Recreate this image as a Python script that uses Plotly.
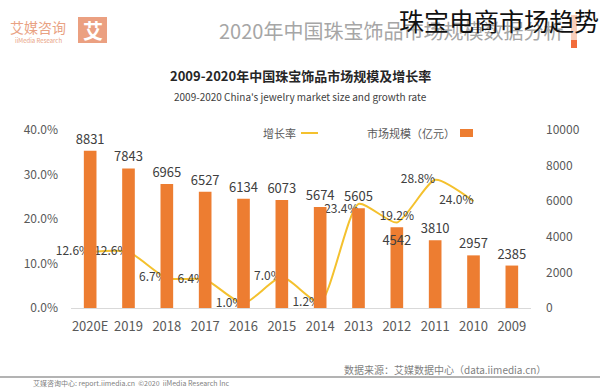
import plotly.graph_objects as go

# ---- data ----
years = ["2009", "2010", "2011", "2012", "2013", "2014", "2015", "2016", "2017", "2018", "2019", "2020E"]
market_size = [2385, 2957, 3810, 4542, 5605, 5674, 6073, 6134, 6527, 6965, 7843, 8831]
size_label_pos = ["outside", "outside", "outside", "inside", "outside", "outside",
                  "outside", "outside", "outside", "outside", "outside", "outside"]
growth_rate = [None, 0.240, 0.288, 0.192, 0.234, 0.012, 0.070, 0.010, 0.064, 0.067, 0.126, 0.126]
growth_label_pos = ["middle left", "middle left", "middle left", "top center", "bottom left",
                    "middle left", "middle left", "middle left", "middle left", "middle left",
                    "middle left", "middle left"]
size_ticks = [0, 2000, 4000, 6000, 8000, 10000]
rate_ticks = [0.0, 0.1, 0.2, 0.3, 0.4]

W_PX, H_PX = 600, 390
L, R, T, B = 71, 69, 130, 82
PW = W_PX - L - R
PH = H_PX - T - B

def px(x):
    return (x - L) / PW

def py(y):
    return (H_PX - B - y) / PH

FONT = "Noto Sans CJK SC, Noto Sans, sans-serif"
BAR_C = "#ED7D31"
LINE_C = "#F4C12E"

fig = go.Figure()
fig.add_trace(go.Bar(
    x=years, y=market_size, name="市场规模（亿元）", yaxis="y2",
    marker=dict(color=BAR_C, line=dict(width=0)), width=0.33,
    text=[str(v) for v in market_size], textposition=size_label_pos,
    insidetextanchor="end", constraintext="none", textangle=0,
    textfont=dict(size=13, color="#404040", family=FONT), cliponaxis=False,
    showlegend=False,
))
fig.add_trace(go.Scatter(
    x=years, y=growth_rate, name="增长率", yaxis="y",
    mode="lines+text", line=dict(color=LINE_C, width=2, shape="spline", smoothing=0.6),
    text=[("" if v is None else f"{v*100:.1f}%") for v in growth_rate],
    textposition=growth_label_pos,
    textfont=dict(size=12, color="#404040", family=FONT), cliponaxis=False,
    showlegend=False,
))

fig.update_layout(
    width=W_PX, height=H_PX,
    margin=dict(l=L, r=R, t=T, b=B, autoexpand=False),
    paper_bgcolor="white", plot_bgcolor="white",
    font=dict(family=FONT, color="#595959"),
    xaxis=dict(type="category", categoryorder="array", categoryarray=years,
               range=[len(years) - 0.5, -0.5], showgrid=False, showline=True, automargin=False,
               linecolor="#D9D9D9", linewidth=1, ticks="",
               tickfont=dict(size=13, color="#595959"), ticklabelstandoff=6),
    yaxis=dict(range=[0, 0.4], tickvals=rate_ticks, tickformat=".1%", automargin=False,
               showgrid=False, zeroline=False, showline=False, side="left",
               tickfont=dict(size=12, color="#595959"), ticklabelstandoff=12),
    yaxis2=dict(range=[0, 10000], tickvals=size_ticks, tickformat="d", overlaying="y", side="right",
                showgrid=False, zeroline=False, showline=False, automargin=False,
                tickfont=dict(size=12, color="#595959"), ticklabelstandoff=14),
)

shapes = []
ann = []

def text(x, y, s, size, color, xanchor="center", bold=False):
    ann.append(dict(x=px(x), y=py(y), xref="paper", yref="paper", text=(f"<b>{s}</b>" if bold else s),
                    showarrow=False, xanchor=xanchor, yanchor="middle",
                    font=dict(size=size, color=color, family=FONT)))

def rect(x0, y0, x1, y1, color):
    shapes.append(dict(type="rect", xref="paper", yref="paper", x0=px(x0), x1=px(x1),
                       y0=py(y1), y1=py(y0), fillcolor=color, line=dict(width=0), layer="above"))

def hline(x0, x1, y, color, width):
    shapes.append(dict(type="line", xref="paper", yref="paper", x0=px(x0), x1=px(x1),
                       y0=py(y), y1=py(y), line=dict(color=color, width=width), layer="above"))

# header: logo
text(38, 27, "艾媒咨询", 14, "#E9A283")
text(38, 40, "iiMedia Research", 6, "#E9A283")
rect(78, 17, 107, 43, "#EBA081")
text(92.5, 30, "艾", 20, "white", bold=True)
# header: grey report title + orange mark
text(391, 30, "2020年中国珠宝饰品市场规模数据分析", 20, "#A6A6A6")
rect(571, 15, 577, 40, "#F8CFBC")
rect(571, 40, 577, 48, "#F26B3A")
# overlay title
text(397, 20, "珠宝电商市场趋势", 25, "#111111", xanchor="left")

# chart titles
text(300, 75, "2009-2020年中国珠宝饰品市场规模及增长率", 13, "#262626", bold=True)
text(300, 96, "2009-2020 China's jewelry market size and growth rate", 10, "#404040")

# legend
text(298, 133, "增长率", 11, "#595959", xanchor="right")
hline(301, 318, 133, LINE_C, 2)
text(457, 133, "市场规模（亿元）", 11, "#595959", xanchor="right")
rect(460, 129, 473, 137, BAR_C)

# footer
text(548, 369, "数据来源：艾媒数据中心（data.iimedia.cn）", 10, "#7F7F7F", xanchor="right")
hline(0, 600, 377, "#9A9A9A", 1.5)
text(131, 382.5, "艾媒咨询中心: report.iimedia.cn  ©2020  iiMedia Research Inc", 7, "#808080")

fig.update_layout(shapes=shapes, annotations=ann)
fig.write_html("out.html", config={"displayModeBar": False},
               post_script="document.body.style.margin='0';")
